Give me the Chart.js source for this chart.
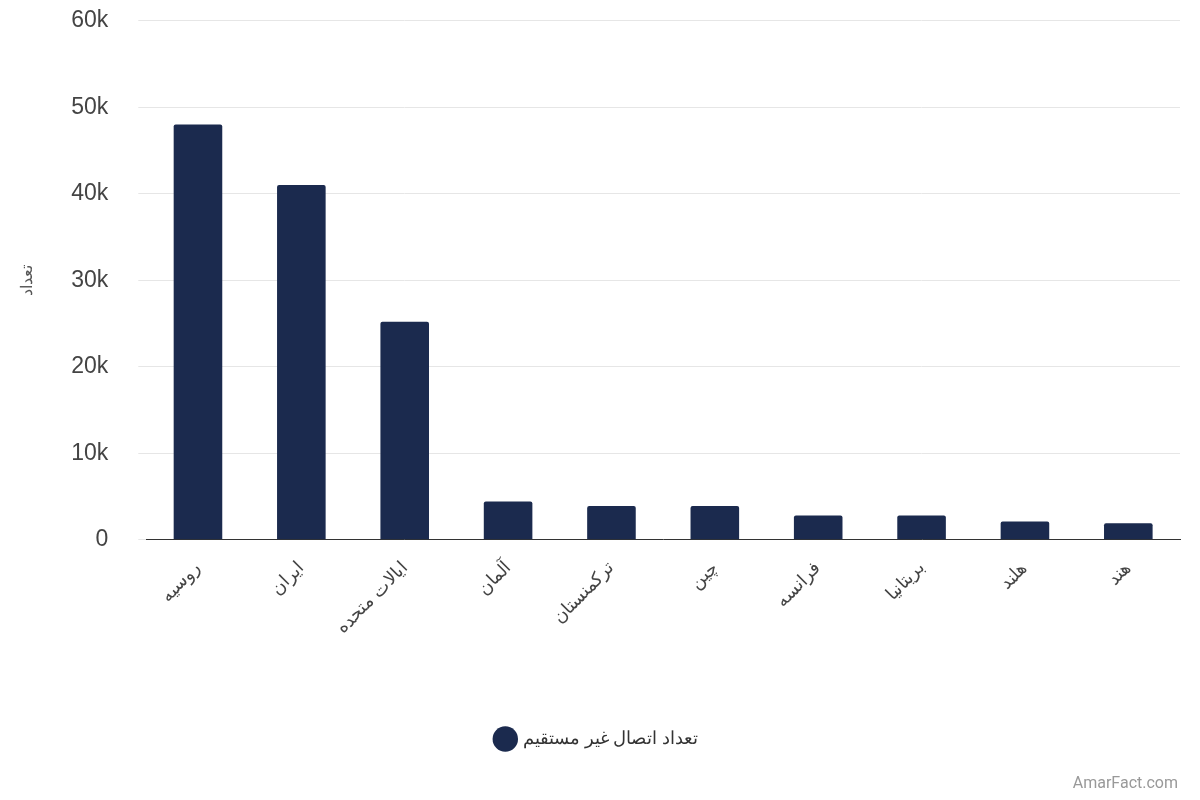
<!DOCTYPE html>
<html>
<head>
<meta charset="utf-8">
<script src="https://cdn.jsdelivr.net/npm/chart.js@4"></script>
<style>
  body { margin: 0; background: #fff; font-family: Roboto, sans-serif; overflow: hidden; }
  #wrap { position: relative; width: 1200px; height: 800px; overflow: hidden; }
  #chart { position: absolute; left: 0; top: -23px; }
  #mark { position: absolute; right: 22px; bottom: 8px; color: #999; font-size: 16px; font-family: Roboto, sans-serif; }
</style>
</head>
<body>
<div id="wrap">
  <canvas id="chart" width="1200" height="823"></canvas>
  <div id="mark">AmarFact.com</div>
</div>
<script>
const countries = ['روسیه', 'ایران', 'ایالات متحده', 'آلمان', 'ترکمنستان', 'چین', 'فرانسه', 'بریتانیا', 'هلند', 'هند'];
const indirectConnections = [48000, 41000, 25200, 4400, 3900, 3900, 2800, 2800, 2100, 1900];
const seriesLabel = 'تعداد اتصال غیر مستقیم';
const axisTitle = 'تعداد';

new Chart(document.getElementById('chart'), {
  type: 'bar',
  data: {
    labels: countries,
    datasets: [{
      label: seriesLabel,
      data: indirectConnections,
      backgroundColor: '#1b2a4e',
      borderColor: '#1b2a4e',
      barPercentage: 0.47,
      categoryPercentage: 1,
      borderRadius: 2
    }]
  },
  options: {
    responsive: false,
    animation: false,
    layout: { padding: { top: 0, right: 20, left: 14, bottom: 42 } },
    plugins: {
      legend: {
        position: 'bottom',
        labels: {
          usePointStyle: true, pointStyle: 'circle', boxWidth: 22, boxHeight: 22,
          color: '#333', font: { size: 18, family: 'Roboto' }, padding: 82
        }
      },
      tooltip: { enabled: false }
    },
    scales: {
      x: {
        grid: { display: false },
        border: { color: '#333' },
        ticks: { color: '#444', font: { size: 18 }, maxRotation: 45, minRotation: 45, padding: 10 }
      },
      y: {
        min: 0, max: 60000,
        ticks: {
          stepSize: 10000, color: '#444', font: { size: 23 }, padding: 30,
          callback: v => v === 0 ? '0' : (v / 1000) + 'k'
        },
        grid: { color: '#e6e6e6' },
        border: { display: false },
        title: { display: true, text: axisTitle, color: '#555', font: { size: 16 } }
      }
    }
  }
});
</script>
</body>
</html>
